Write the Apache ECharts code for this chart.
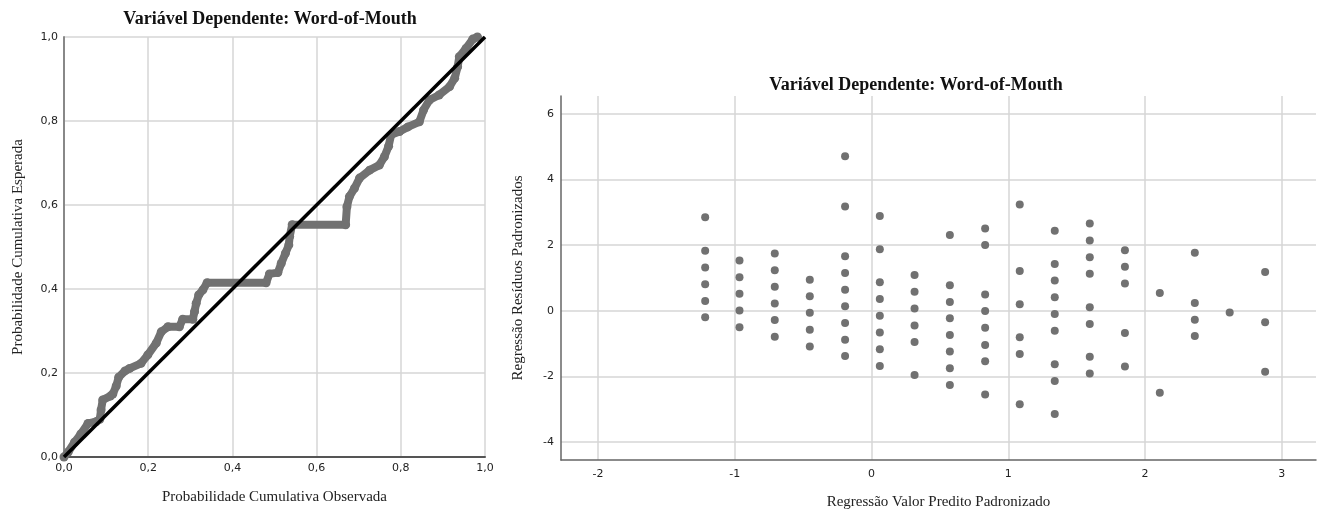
<!DOCTYPE html>
<html>
<head>
<meta charset="utf-8">
<script src="https://cdn.jsdelivr.net/npm/echarts@6/dist/echarts.min.js"></script>
<style>
html,body{margin:0;padding:0;background:#fff;}
#c{width:1320px;height:511px;}
</style>
</head>
<body>
<div id="c"></div>
<script>
// ---- Data: P-P plot (left) ----
var titleText = 'Variável Dependente: Word-of-Mouth';
var ppTicks = [0, 0.2, 0.4, 0.6, 0.8, 1.0];
var ppObserved = [0.000,0.010,0.025,0.040,0.057,0.076,0.085,0.088,0.092,0.110,0.116,0.124,0.130,0.145,0.156,0.183,0.199,0.219,0.231,0.247,0.274,0.282,0.306,0.310,0.314,0.320,0.330,0.340,0.480,0.488,0.508,0.516,0.526,0.534,0.536,0.542,0.669,0.672,0.678,0.690,0.702,0.726,0.749,0.761,0.771,0.777,0.797,0.817,0.844,0.854,0.868,0.891,0.916,0.928,0.935,0.939,0.955,0.971,0.982];
var ppExpected = [0.000,0.012,0.035,0.055,0.080,0.084,0.090,0.112,0.136,0.145,0.150,0.169,0.190,0.205,0.211,0.223,0.243,0.271,0.298,0.310,0.310,0.328,0.328,0.346,0.366,0.386,0.398,0.415,0.415,0.436,0.439,0.461,0.485,0.505,0.525,0.553,0.553,0.596,0.620,0.640,0.664,0.683,0.695,0.715,0.740,0.767,0.775,0.786,0.798,0.826,0.850,0.862,0.882,0.902,0.929,0.953,0.973,0.995,1.000];
var refLineX = [0, 1];
var refLineY = [0, 1];

// ---- Data: residual scatter (right) ----
var predValues = [-1.216,-0.965,-0.707,-0.451,-0.193,0.061,0.315,0.573,0.831,1.084,1.340,1.596,1.853,2.108,2.364,2.619,2.878];
var residByPred = [
  [2.85,1.83,1.32,0.81,0.30,-0.20],
  [1.53,1.02,0.52,0.01,-0.50],
  [1.75,1.24,0.73,0.22,-0.28,-0.79],
  [0.95,0.44,-0.06,-0.58,-1.09],
  [4.71,3.18,1.66,1.15,0.64,0.14,-0.37,-0.88,-1.38],
  [2.89,1.88,0.87,0.36,-0.15,-0.66,-1.17,-1.68],
  [1.09,0.58,0.07,-0.45,-0.95,-1.96],
  [2.31,0.78,0.27,-0.23,-0.74,-1.24,-1.75,-2.26],
  [2.51,2.01,0.50,-0.01,-0.52,-1.04,-1.54,-2.55],
  [3.24,1.21,0.20,-0.81,-1.32,-2.85],
  [2.44,1.43,0.92,0.41,-0.10,-0.61,-1.63,-2.14,-3.15],
  [2.66,2.14,1.63,1.13,0.11,-0.40,-1.40,-1.91],
  [1.85,1.34,0.83,-0.68,-1.70],
  [0.54,-2.50],
  [1.77,0.24,-0.27,-0.77],
  [-0.05],
  [1.18,-0.35,-1.86]
];
var xRange = [-2.27, 3.25];
var yRange = [-4.55, 6.55];

// ---- Build ----
var ppData = ppObserved.map(function(x, i){ return [x, ppExpected[i]]; });
var refData = refLineX.map(function(x, i){ return [x, refLineY[i]]; });
var scatterData = [];
predValues.forEach(function(p, i){
  residByPred[i].forEach(function(r){ scatterData.push([p, r]); });
});

var serif = 'Liberation Serif';
var sans = 'DejaVu Sans';
var dotColor = '#717171';
var gridColor = '#d6d6d6';

var chart = echarts.init(document.getElementById('c'), null, {renderer: 'canvas'});
chart.setOption({
  backgroundColor: '#fff',
  animation: false,
  title: [
    {text: titleText, left: 265, top: 5, textAlign: 'center',
     textStyle: {fontFamily: serif, fontWeight: 'bold', fontSize: 18, color: '#111'}},
    {text: titleText, left: 911, top: 71, textAlign: 'center',
     textStyle: {fontFamily: serif, fontWeight: 'bold', fontSize: 18, color: '#111'}}
  ],
  grid: [
    {left: 64, top: 37, width: 421, height: 420, outerBoundsMode: 'none', containLabel: false},
    {left: 561, top: 96, width: 755, height: 364, outerBoundsMode: 'none', containLabel: false}
  ],
  xAxis: [
    {gridIndex: 0, type: 'value', min: ppTicks[0], max: ppTicks[ppTicks.length-1], interval: 0.2,
     name: 'Probabilidade Cumulativa Observada', nameLocation: 'middle', nameGap: 33,
     nameTextStyle: {fontFamily: serif, fontSize: 15, color: '#222'},
     axisLine: {show: true, onZero: false, lineStyle: {color: '#555', width: 2}},
     axisTick: {show: false},
     axisLabel: {fontFamily: sans, fontSize: 11, color: '#222', margin: 6,
       formatter: function(v){ return v.toFixed(1).replace('.', ','); }},
     splitLine: {show: true, lineStyle: {color: gridColor, width: 1.5}}},
    {gridIndex: 1, type: 'value', min: xRange[0], max: xRange[1], splitNumber: 5,
     name: 'Regressão Valor Predito Padronizado', nameLocation: 'middle', nameGap: 35,
     nameTextStyle: {fontFamily: serif, fontSize: 15, color: '#222'},
     axisLine: {show: true, onZero: false, lineStyle: {color: '#666', width: 1.5}},
     axisTick: {show: false},
     axisLabel: {fontFamily: sans, fontSize: 11, color: '#222', margin: 9,
       showMinLabel: false, showMaxLabel: false},
     splitLine: {show: true, showMinLine: false, showMaxLine: false, lineStyle: {color: gridColor, width: 1.5}}}
  ],
  yAxis: [
    {gridIndex: 0, type: 'value', min: ppTicks[0], max: ppTicks[ppTicks.length-1], interval: 0.2,
     name: 'Probabilidade Cumulativa Esperada', nameLocation: 'middle', nameGap: 38,
     nameTextStyle: {fontFamily: serif, fontSize: 15, color: '#222'},
     axisLine: {show: true, onZero: false, lineStyle: {color: '#888', width: 2}},
     axisTick: {show: false},
     axisLabel: {fontFamily: sans, fontSize: 11, color: '#222', margin: 6,
       formatter: function(v){ return v.toFixed(1).replace('.', ','); }},
     splitLine: {show: true, lineStyle: {color: gridColor, width: 1.5}}},
    {gridIndex: 1, type: 'value', min: yRange[0], max: yRange[1], splitNumber: 5,
     name: 'Regressão Resíduos Padronizados', nameLocation: 'middle', nameGap: 35,
     nameTextStyle: {fontFamily: serif, fontSize: 15, color: '#222'},
     axisLine: {show: true, onZero: false, lineStyle: {color: '#666', width: 1.5}},
     axisTick: {show: false},
     axisLabel: {fontFamily: sans, fontSize: 11, color: '#222', margin: 7,
       showMinLabel: false, showMaxLabel: false},
     splitLine: {show: true, showMinLine: false, showMaxLine: false, lineStyle: {color: gridColor, width: 1.5}}}
  ],
  series: [
    {type: 'line', xAxisIndex: 0, yAxisIndex: 0, data: ppData, z: 3,
     symbol: 'circle', symbolSize: 9, showSymbol: true,
     itemStyle: {color: dotColor},
     lineStyle: {color: dotColor, width: 8, cap: 'round', join: 'round'},
     silent: true},
    {type: 'line', xAxisIndex: 0, yAxisIndex: 0, data: refData, z: 4,
     symbol: 'none', lineStyle: {color: '#000', width: 3.5}, silent: true},
    {type: 'scatter', xAxisIndex: 1, yAxisIndex: 1, data: scatterData,
     symbol: 'circle', symbolSize: 8, itemStyle: {color: dotColor, opacity: 1}}
  ]
});
</script>
</body>
</html>
